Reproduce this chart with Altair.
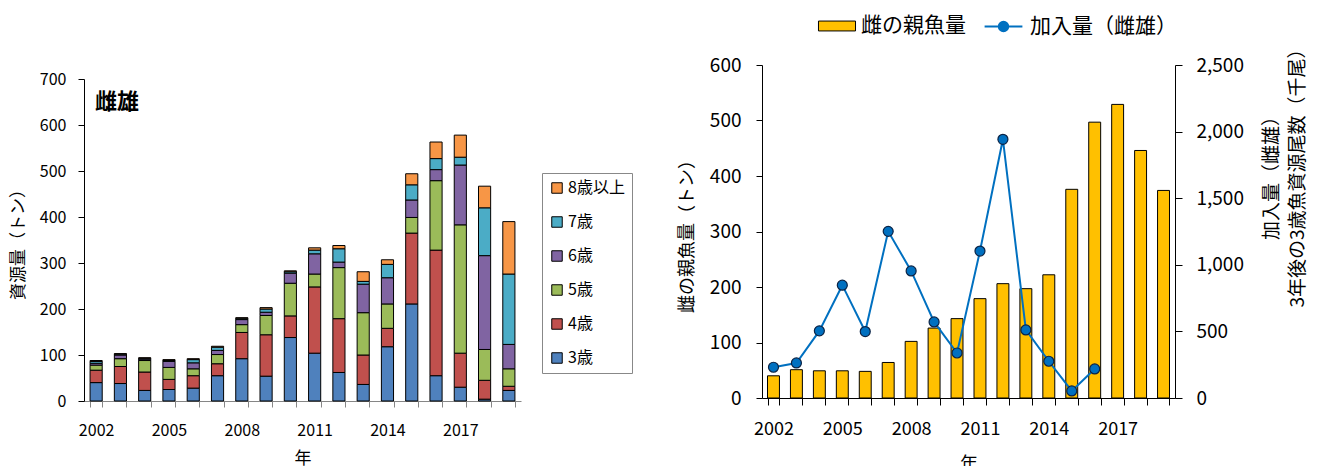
import altair as alt
import pandas as pd

FONT = "Noto Sans CJK JP"

# ---------------- data ----------------
years = list(range(2002, 2020))
ages = ["3歳", "4歳", "5歳", "6歳", "7歳", "8歳以上"]
age_colors = ["#4F81BD", "#C0504D", "#9BBB59", "#8064A2", "#4BACC6", "#F79646"]
age3 = [40, 38, 23, 25, 28, 55, 92, 54, 138, 104, 62, 36, 118, 211, 55, 30, 4, 23]
age4 = [27, 37, 40, 22, 27, 26, 57, 90, 47, 144, 117, 64, 40, 154, 273, 74, 41, 9]
age5 = [11, 17, 25, 26, 15, 20, 17, 42, 71, 28, 111, 92, 53, 34, 151, 279, 67, 38]
age6 = [4, 8, 3, 13, 13, 9, 11, 7, 22, 44, 12, 62, 57, 38, 24, 130, 204, 53]
age7 = [4, 2, 2, 2, 7, 7, 3, 7, 3, 8, 29, 6, 29, 33, 24, 17, 104, 153]
age8 = [2, 1, 1, 2, 2, 2, 1, 3, 2, 5, 7, 21, 10, 24, 36, 48, 47, 114]
panel_label = ["雌雄"]

spawn_name = ["雌の親魚量"]
spawn = [40, 51, 49, 49, 48, 64, 102, 126, 143, 179, 206, 197, 222, 376, 497, 529, 446, 374]
recruit_name = ["加入量（雌雄）"]
recruit_years = list(range(2002, 2017))
recruit = [231, 263, 504, 847, 499, 1251, 954, 571, 338, 1103, 1942, 511, 276, 53, 218]

rows = []
for i, (a, vals) in enumerate(zip(ages, [age3, age4, age5, age6, age7, age8])):
    for yr, v in zip(years, vals):
        rows.append({"year": yr, "age": a, "idx": i, "value": v})
df_left = pd.DataFrame(rows)
df_spawn = pd.DataFrame({"year": years, "spawn": spawn, "series": spawn_name * len(years)})
df_rec = pd.DataFrame({"year": recruit_years, "recruit": recruit,
                       "series": recruit_name * len(recruit_years)})
df_label = pd.DataFrame({"t": panel_label})

LABEL_EXPR = "datum.value % 3 == 1 ? datum.label : ''"

# ---------------- left chart ----------------
LH = 336      # view height (plot drawn from 14 to 336)
xl = alt.X("year:O", title="年",
           scale=alt.Scale(paddingInner=0.5, paddingOuter=0.25),
           axis=alt.Axis(labelAngle=0, labelExpr=LABEL_EXPR, tickBand="extent",
                         domainColor="#868686", tickColor="#868686", tickSize=6,
                         labelPadding=15, labelFontSize=16, titleFontSize=17,
                         titlePadding=12))
yl = alt.Y("value:Q", stack="zero", title="資源量（トン）",
           scale=alt.Scale(domain=[0, 700], nice=False, range=[LH, 14]),
           axis=alt.Axis(values=list(range(0, 701, 100)), tickSize=6, labelPadding=12,
                         labelFontSize=16, titleFontSize=17, titlePadding=12,
                         domainColor="black", tickColor="black"))

bars_l = alt.Chart(df_left).mark_bar(stroke="black", strokeWidth=1).encode(
    x=xl,
    y=yl,
    color=alt.Color("age:N",
                    scale=alt.Scale(domain=ages[::-1], range=age_colors[::-1]),
                    legend=alt.Legend(title=None, orient="none", legendX=458, legendY=108,
                                      strokeColor="#888888", padding=7, rowPadding=18,
                                      symbolType="square", symbolSize=110,
                                      symbolStrokeColor="black", symbolStrokeWidth=1,
                                      labelFontSize=16, labelOffset=3)),
    order=alt.Order("idx:Q", sort="ascending"),
)

txt_l = alt.Chart(df_label).mark_text(align="left", baseline="middle", fontSize=22,
                                      font=FONT, fontWeight="bold").encode(
    text="t:N", x=alt.value(11), y=alt.value(37))

left = alt.layer(bars_l, txt_l).properties(width=437, height=LH)

# ---------------- right chart ----------------
xr = alt.X("year:O", title="年",
           scale=alt.Scale(paddingInner=0.48, paddingOuter=0.24),
           axis=alt.Axis(labelAngle=0, labelExpr=LABEL_EXPR, tickBand="extent",
                         domainColor="black", tickColor="black", tickSize=7,
                         labelPadding=15, labelFontSize=18, titleFontSize=18,
                         titlePadding=17))

bars_r = alt.Chart(df_spawn).mark_bar(stroke="black", strokeWidth=1).encode(
    x=xr,
    y=alt.Y("spawn:Q", title="雌の親魚量（トン）",
            scale=alt.Scale(domain=[0, 600], nice=False),
            axis=alt.Axis(values=list(range(0, 601, 100)), tickSize=6, labelPadding=15,
                          labelFontSize=19, titleFontSize=18, titlePadding=13,
                          domainColor="black", tickColor="black")),
    fill=alt.Fill("series:N",
                  scale=alt.Scale(domain=spawn_name, range=["#FFC000"]),
                  legend=alt.Legend(title=None, orient="none", legendX=62, legendY=-52,
                                    padding=0, symbolType="M-1.5,-0.4H1.5V0.4H-1.5Z",
                                    symbolSize=610, symbolStrokeColor="black",
                                    symbolStrokeWidth=1, symbolOpacity=1,
                                    labelFontSize=21, labelOffset=11)),
)

yr_enc = alt.Y("recruit:Q",
               scale=alt.Scale(domain=[0, 2500], nice=False),
               axis=alt.Axis(orient="right", values=list(range(0, 2501, 500)), format=",.0f",
                             tickSize=7, labelPadding=14, labelFontSize=19,
                             title=["加入量（雌雄）", "3年後の3歳魚資源尾数（千尾）"],
                             titleFontSize=19, titleAngle=270, titleAlign="center",
                             titleBaseline="middle", titleX=96, titleY=108,
                             titleLineHeight=26, domainColor="black", tickColor="black"))

line_r = alt.Chart(df_rec).mark_line(strokeWidth=2).encode(
    x=xr,
    y=yr_enc,
    stroke=alt.Stroke("series:N",
                      scale=alt.Scale(domain=recruit_name, range=["#0070C0"]),
                      legend=alt.Legend(title=None, orient="none", legendX=230, legendY=-50,
                                        padding=0,
                                        symbolType="M-1.8,0H1.8M-0.45,0A0.45,0.45,0,1,1,0.45,0A0.45,0.45,0,1,1,-0.45,0",
                                        symbolSize=441, symbolFillColor="#0070C0",
                                        symbolStrokeWidth=2, symbolOpacity=1,
                                        labelFontSize=21, labelOffset=15)),
)
pts_r = alt.Chart(df_rec).mark_point(shape="circle", filled=True, fill="#0070C0",
                                     stroke="#0b2345", strokeWidth=1.2, size=100,
                                     opacity=1).encode(x=xr, y=yr_enc)

right = alt.layer(bars_r, alt.layer(line_r, pts_r)).resolve_scale(
    y="independent", fill="independent", stroke="independent"
).properties(width=413, height=333)

chart = alt.hconcat(left, right, spacing=157).properties(
    padding={"left": 1, "top": 5, "right": 0, "bottom": 0}
).configure_view(stroke=None).configure_axis(
    grid=False, labelFont=FONT, titleFont=FONT, labelColor="black", titleColor="black",
    titleFontWeight="normal"
).configure_legend(labelFont=FONT, labelColor="black").configure_title(font=FONT)

chart.save("out.html", embed_options={"renderer": "svg", "actions": False})
